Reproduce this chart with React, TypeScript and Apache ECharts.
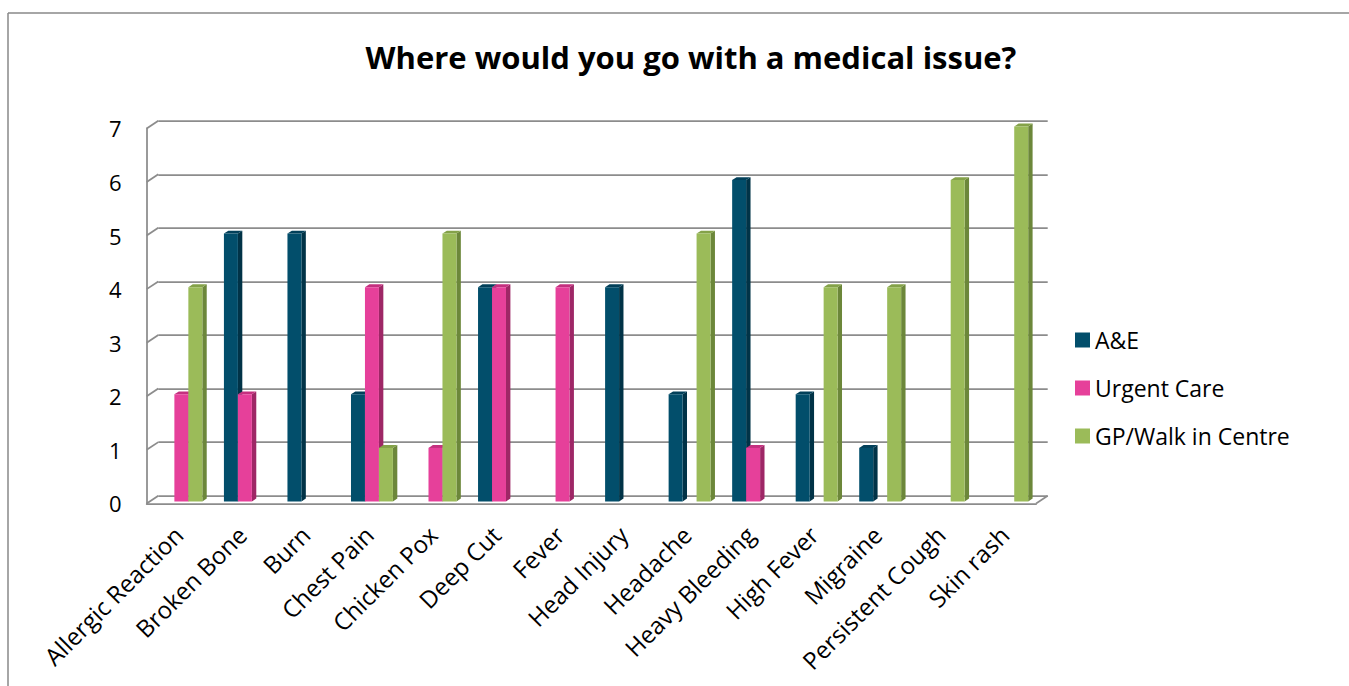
import React, { useEffect, useRef } from "react";
import * as echarts from "echarts";

const categories = [
  "Allergic Reaction", "Broken Bone", "Burn", "Chest Pain", "Chicken Pox", "Deep Cut", "Fever",
  "Head Injury", "Headache", "Heavy Bleeding", "High Fever", "Migraine", "Persistent Cough", "Skin rash",
];
const aeValues = [0, 5, 5, 2, 0, 4, 0, 4, 2, 6, 2, 1, 0, 0];
const urgentValues = [2, 2, 0, 4, 1, 4, 4, 0, 0, 1, 0, 0, 0, 0];
const gpValues = [4, 0, 0, 1, 5, 0, 0, 0, 5, 0, 4, 4, 6, 7];
const yTicks = [0, 1, 2, 3, 4, 5, 6, 7];

const FONT = "'Open Sans', 'Noto Sans', sans-serif";
const GRID_COLOR = "#8c8c8c";
const DEPTH_X = 11.6;
const DEPTH_Y = 7.7;
const FRONT_FRAC = 0.75;
const SIDE_X = 4.4;
const SIDE_Y = 2.9;
const BAR_FRAC = 0.22;

type SeriesDef = { name: string; values: number[]; front: string; side: string; top: string; slot: number };
const seriesDefs: SeriesDef[] = [
  { name: "A&E", values: aeValues, front: "#024E6B", side: "#013347", top: "#02405A", slot: -1.5 },
  { name: "Urgent Care", values: urgentValues, front: "#E6409A", side: "#9E2766", top: "#C4307F", slot: -0.5 },
  { name: "GP/Walk in Centre", values: gpValues, front: "#9BBB59", side: "#6C873A", top: "#84A249", slot: 0.5 },
];

function barRenderer(def: SeriesDef) {
  return (params: any, api: any) => {
    const cat = api.value(0);
    const v = api.value(1);
    if (!v) return null;
    const top = api.coord([cat, v]);
    const bot = api.coord([cat, 0]);
    const band = api.size([1, 0])[0];
    const bw = band * BAR_FRAC;
    const sx = -DEPTH_X * FRONT_FRAC;
    const sy = DEPTH_Y * FRONT_FRAC;
    const x0 = top[0] + def.slot * bw + sx;
    const x1 = x0 + bw;
    const yt = top[1] + sy;
    const yb = bot[1] + sy;
    return {
      type: "group",
      children: [
        {
          type: "polygon",
          shape: { points: [[x1, yt], [x1 + SIDE_X, yt - SIDE_Y], [x1 + SIDE_X, yb - SIDE_Y], [x1, yb]] },
          style: { fill: def.side },
        },
        {
          type: "polygon",
          shape: { points: [[x0, yt], [x1, yt], [x1 + SIDE_X, yt - SIDE_Y], [x0 + SIDE_X, yt - SIDE_Y]] },
          style: { fill: def.top },
        },
        {
          type: "rect",
          shape: { x: x0, y: yt, width: bw, height: yb - yt },
          style: { fill: def.front },
        },
      ],
    };
  };
}

function frameRenderer(params: any, api: any) {
  const v = api.value(0);
  const band = api.size([1, 0])[0];
  const left = api.coord([0, v]);
  const lx = left[0] - band / 2;
  const y = left[1];
  const children: any[] = [
    {
      type: "line",
      shape: { x1: lx - DEPTH_X, y1: y + DEPTH_Y, x2: lx, y2: y },
      style: { stroke: GRID_COLOR, lineWidth: 1.75 },
    },
  ];
  if (v === 0) {
    const right = api.coord([categories.length - 1, v]);
    const rx = right[0] + band / 2;
    children.push({
      type: "line",
      shape: { x1: rx - DEPTH_X, y1: y + DEPTH_Y, x2: rx, y2: y },
      style: { stroke: GRID_COLOR, lineWidth: 1.75 },
    });
  }
  return { type: "group", children };
}

export default function App() {
  const ref = useRef<HTMLDivElement>(null);
  useEffect(() => {
    if (!ref.current) return;
    const chart = echarts.init(ref.current, null, { renderer: "svg" });
    const backLeft = 158.3;
    const backRight = 1349 - 1047.7;
    const backTop = 120.7;
    const backBottom = 686 - 495.7;
    chart.setOption({
      animation: false,
      backgroundColor: "#ffffff",
      title: {
        text: "Where would you go with a medical issue?",
        left: 686,
        textAlign: "center",
        top: 36,
        textStyle: { fontFamily: FONT, fontWeight: "bold", fontSize: 31, color: "#000" },
      },
      legend: {
        orient: "vertical",
        left: 1070,
        top: 323,
        itemWidth: 15,
        itemHeight: 15,
        itemGap: 24,
        itemTextGap: 6,
        icon: "rect",
        textStyle: { fontFamily: FONT, fontSize: 23, lineHeight: 24, color: "#000" },
        data: seriesDefs.map((d) => d.name),
      },
      graphic: [
        { type: "line", shape: { x1: 8, y1: 13, x2: 1349, y2: 13 }, style: { stroke: "#888", lineWidth: 1.5 } },
        { type: "line", shape: { x1: 8, y1: 13, x2: 8, y2: 686 }, style: { stroke: "#888", lineWidth: 1.5 } },
      ],
      grid: [
        { left: backLeft, right: backRight, top: backTop, bottom: backBottom },
        {
          left: backLeft - DEPTH_X,
          right: backRight + DEPTH_X,
          top: backTop + DEPTH_Y,
          bottom: backBottom - DEPTH_Y,
        },
      ],
      xAxis: [
        {
          type: "category",
          gridIndex: 0,
          data: categories,
          axisLine: { show: false },
          axisTick: { show: false },
          axisLabel: { show: false },
        },
        {
          type: "category",
          gridIndex: 1,
          data: categories,
          axisLine: { show: true, lineStyle: { color: GRID_COLOR, width: 1.75 } },
          axisTick: { show: false },
          axisLabel: {
            rotate: 45,
            margin: 27,
            fontFamily: FONT,
            fontSize: 24,
            color: "#000",
          },
        },
      ],
      yAxis: [
        {
          type: "value",
          gridIndex: 0,
          min: 0,
          max: 7,
          interval: 1,
          axisLine: { show: false },
          axisTick: { show: false },
          axisLabel: { show: false },
          splitLine: { show: true, lineStyle: { color: GRID_COLOR, width: 1.75 } },
        },
        {
          type: "value",
          gridIndex: 1,
          min: 0,
          max: 7,
          interval: 1,
          axisLine: { show: true, lineStyle: { color: GRID_COLOR, width: 1.75 } },
          axisTick: { show: false },
          splitLine: { show: false },
          axisLabel: { margin: 25, fontFamily: FONT, fontSize: 22, color: "#000" },
        },
      ],
      series: [
        {
          type: "custom",
          name: "frame",
          xAxisIndex: 0,
          yAxisIndex: 0,
          data: yTicks.map((t) => [t]),
          encode: { y: 0 },
          renderItem: frameRenderer,
          silent: true,
          z: 1,
        },
        ...seriesDefs.map((def) => ({
          type: "custom",
          name: def.name,
          xAxisIndex: 0,
          yAxisIndex: 0,
          itemStyle: { color: def.front },
          data: def.values.map((v, i) => [i, v]),
          encode: { x: 0, y: 1 },
          renderItem: barRenderer(def),
          z: 2,
        })),
      ],
    });
    return () => chart.dispose();
  }, []);
  return (
    <div
      ref={ref}
      style={{ position: "fixed", left: 0, top: 0, width: 1349, height: 686 }}
    />
  );
}
